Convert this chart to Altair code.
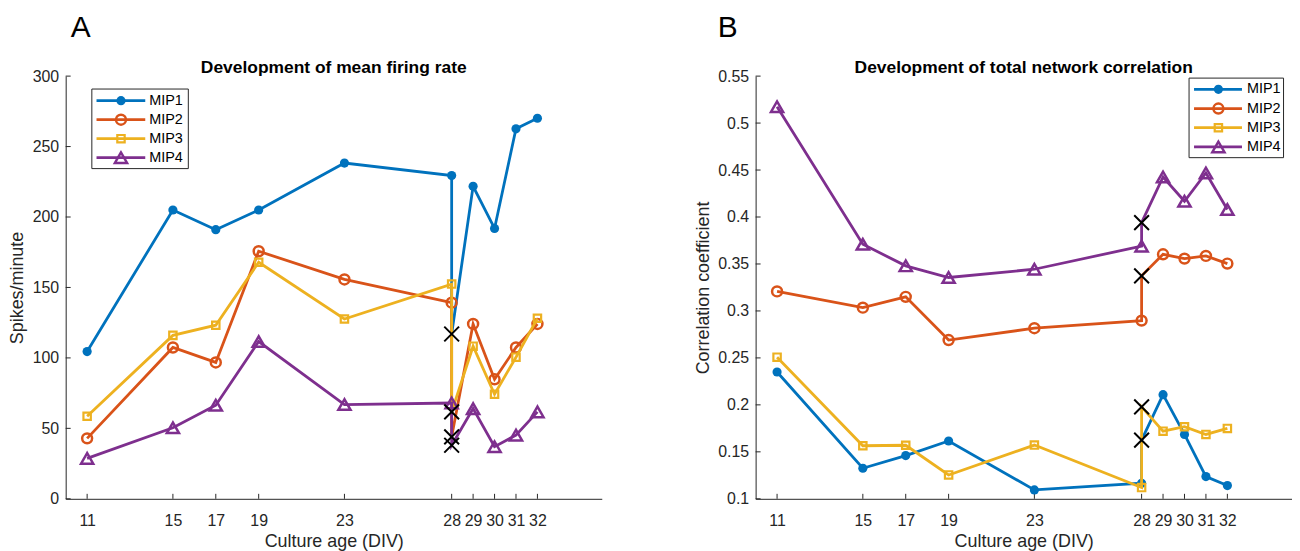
import altair as alt
import pandas as pd

# ---------------- data ----------------
days = [11, 15, 17, 19, 23, 28, 29, 30, 31, 32]
series_names = ["MIP1", "MIP2", "MIP3", "MIP4"]

# Panel A: mean firing rate (spikes/minute); the day-28 value is the one before the switch
mfr_mip1 = [104.5, 205.0, 191.0, 205.0, 238.3, 229.4, 221.8, 191.9, 262.6, 270.1]
mfr_mip2 = [42.9, 107.4, 96.8, 175.7, 155.7, 139.2, 124.1, 84.8, 107.4, 124.1]
mfr_mip3 = [58.6, 116.0, 123.2, 167.9, 127.6, 152.4, 108.3, 74.2, 100.5, 128.1]
mfr_mip4 = [28.7, 50.4, 66.4, 111.6, 66.9, 68.0, 64.0, 37.0, 45.2, 61.7]
mfr_day28_after = [117.0, 44.0, 61.7, 38.0]

# Panel B: total network correlation
corr_mip1 = [0.235, 0.1325, 0.146, 0.1615, 0.1095, 0.1166, 0.2109, 0.1685, 0.1237, 0.1141]
corr_mip2 = [0.3208, 0.3035, 0.315, 0.269, 0.2816, 0.2897, 0.3603, 0.3557, 0.3586, 0.3504]
corr_mip3 = [0.2508, 0.1565, 0.157, 0.1254, 0.1572, 0.112, 0.172, 0.1767, 0.1685, 0.1749]
corr_mip4 = [0.5175, 0.371, 0.348, 0.3356, 0.3444, 0.369, 0.4426, 0.4168, 0.4469, 0.408]
corr_day28_after = [0.1625, 0.3374, 0.1978, 0.394]

mfr_ticks = [0, 50, 100, 150, 200, 250, 300]
corr_ticks = [0.1, 0.15, 0.2, 0.25, 0.3, 0.35, 0.4, 0.45, 0.5, 0.55]

# ---------------- styles ----------------
COLORS = ["#0072BD", "#D95319", "#EDB120", "#7E2F8E"]
SHAPES = ["circle", "circle", "square", "triangle-up"]
FILLED = [True, False, False, False]
SIZES = [85, 100, 55, 150]
MSTROKE = [1, 2.5, 2.2, 2.5]
XPATH = "M-1,-1L1,1M-1,1L1,-1"
FONT = "Liberation Sans"
AX = "#262626"
W, H = 539, 425
LW = 2.8


def build_df(series_vals, after_vals):
    rows = []
    for s, vals, after in zip(series_names, series_vals, after_vals):
        order = 0
        for d, v in zip(days, vals):
            rows.append(dict(series=s, day=d, value=v, kind="main", order=order))
            order += 1
            if d == 28:
                rows.append(dict(series=s, day=d, value=after, kind="post", order=order))
                order += 1
    return pd.DataFrame(rows)


def panel(df, ydomain, yticks, yfmt, ytitle, ttl_pad, title, letter, letter_x, leg):
    x = alt.X("day:Q",
              scale=alt.Scale(domain=[10, 35], nice=False, zero=False),
              axis=alt.Axis(values=days, ticks=False, grid=False, title="Culture age (DIV)",
                            labelFont=FONT, labelFontSize=16, labelColor=AX, labelPadding=14,
                            labelFlush=False, titleFont=FONT, titleFontSize=18,
                            titleFontWeight="normal", titleColor=AX, titlePadding=4,
                            domainColor=AX, domainWidth=1))
    y = alt.Y("value:Q",
              scale=alt.Scale(domain=ydomain, nice=False, zero=False),
              axis=alt.Axis(values=yticks, format=yfmt, ticks=False, grid=False, title=ytitle,
                            labelFont=FONT, labelFontSize=16, labelColor=AX, labelPadding=7,
                            labelFlush=False, titleFont=FONT, titleFontSize=18,
                            titleFontWeight="normal", titleColor=AX, titlePadding=ttl_pad,
                            domainColor=AX, domainWidth=1))
    layers = []
    # inward ticks
    layers.append(alt.Chart(pd.DataFrame({"day": days})).mark_rule(color=AX, strokeWidth=1)
                  .encode(x=x, y=alt.value(H), y2=alt.value(H - 5)))
    layers.append(alt.Chart(pd.DataFrame({"value": yticks})).mark_rule(color=AX, strokeWidth=1)
                  .encode(y=y, x=alt.value(0), x2=alt.value(5)))
    for i, s in enumerate(series_names):
        sub = df[df.series == s]
        layers.append(alt.Chart(sub).mark_line(color=COLORS[i], strokeWidth=LW)
                      .encode(x=x, y=y, order="order:Q"))
        layers.append(alt.Chart(sub[sub.kind == "main"]).mark_point(
            shape=SHAPES[i], filled=FILLED[i], size=SIZES[i], color=COLORS[i],
            strokeWidth=MSTROKE[i], opacity=1).encode(x=x, y=y))
    layers.append(alt.Chart(df[df.kind == "post"]).mark_point(
        shape=XPATH, filled=False, size=220, color="black", strokeWidth=2, opacity=1)
        .encode(x=x, y=y))

    # legend box
    bx0, bx1, by0, by1, lx0, lx1, lmx, ltx, ly0, lstep = leg
    layers.append(alt.Chart(pd.DataFrame({"series": ["box"]})).mark_rect(
        fill="white", stroke=AX, strokeWidth=1)
        .encode(x=alt.value(bx0), x2=alt.value(bx1), y=alt.value(by0), y2=alt.value(by1)))
    for i, s in enumerate(series_names):
        ly = ly0 + i * lstep
        one = pd.DataFrame({"series": [s]})
        layers.append(alt.Chart(one).mark_rule(color=COLORS[i], strokeWidth=LW)
                      .encode(x=alt.value(lx0), x2=alt.value(lx1), y=alt.value(ly)))
        layers.append(alt.Chart(one).mark_point(
            shape=SHAPES[i], filled=FILLED[i], size=SIZES[i], color=COLORS[i],
            strokeWidth=MSTROKE[i], opacity=1)
            .encode(x=alt.value(lmx), y=alt.value(ly)))
        layers.append(alt.Chart(one).mark_text(
            font=FONT, fontSize=14.5, color="black", align="left", baseline="middle")
            .encode(text="series:N", x=alt.value(ltx), y=alt.value(ly)))

    # panel title and letter
    layers.append(alt.Chart(pd.DataFrame({"t": [title]})).mark_text(
        font=FONT, fontSize=17.5, fontWeight="bold", color="black", align="center",
        baseline="alphabetic").encode(text="t:N", x=alt.value(W / 2), y=alt.value(-3)))
    layers.append(alt.Chart(pd.DataFrame({"t": [letter]})).mark_text(
        font=FONT, fontSize=30, color="black", align="left",
        baseline="alphabetic").encode(text="t:N", x=alt.value(letter_x), y=alt.value(-39)))
    return alt.layer(*layers).properties(width=W, height=H)


dfA = build_df([mfr_mip1, mfr_mip2, mfr_mip3, mfr_mip4], mfr_day28_after)
dfB = build_df([corr_mip1, corr_mip2, corr_mip3, corr_mip4], corr_day28_after)

panelA = panel(dfA, [0, 300], mfr_ticks, "d", "Spikes/minute", 6,
               "Development of mean firing rate", "A", 5,
               (26.3, 123.3, 13, 93, 31, 80, 55.6, 84, 24.7, 19.1))
panelB = panel(dfB, [0.1, 0.55], corr_ticks, ".2~f", "Correlation coefficient", 5,
               "Development of total network correlation", "B", -38,
               (435.8, 530.8, 2, 82, 440.8, 489, 465.3, 494, 13.3, 19.3))

chart = alt.HConcatChart(hconcat=[panelA, panelB], spacing=154.7, bounds="flush").properties(
    padding={"left": 0, "top": 4, "right": 0, "bottom": 0}
).configure_view(stroke=None)

chart.save("out.html", embed_options={"renderer": "svg", "actions": False})
